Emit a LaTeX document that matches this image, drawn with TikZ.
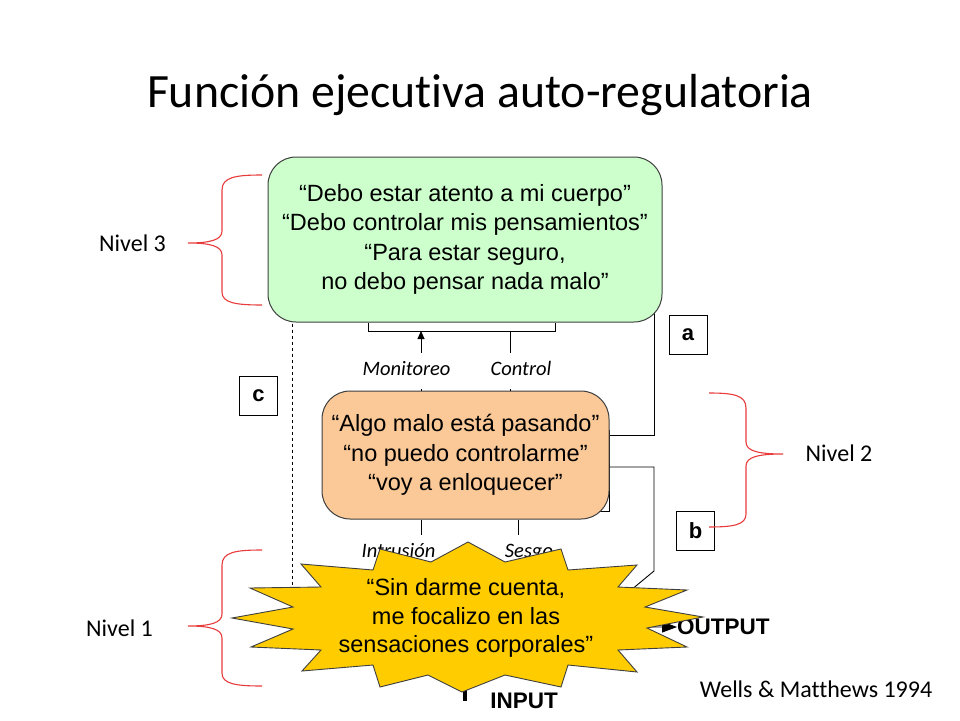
\documentclass[tikz,border=0pt]{standalone}
\usepackage{fontspec}
\setmainfont{Liberation Sans}
\newfontfamily\calibri[Ligatures=NoCommon]{Carlito}
\usetikzlibrary{arrows.meta}
\pgfdeclarelayer{bg}
\pgfdeclarelayer{back}
\pgfsetlayers{bg,back,main}
\definecolor{greenfill}{HTML}{CCFFCC}
\definecolor{orangefill}{HTML}{FBC997}
\definecolor{starfill}{HTML}{FFCC00}
\definecolor{bracered}{HTML}{E83C3C}
\definecolor{boxline}{HTML}{3F3F3F}
\begin{document}
\begin{tikzpicture}[x=1pt,y=-1pt,
  quote/.style={font=\fontsize{23.5}{29.5}\selectfont, align=center, inner sep=0pt},
  roundbox/.style={draw=boxline, line width=1pt, rounded corners=28pt, inner sep=0pt},
  flowlabel/.style={font=\calibri\itshape\fontsize{20.5}{22}\selectfont, minimum height=36pt, inner sep=0pt, text height=14pt, text depth=4.5pt},
  letterbox/.style={draw=black, line width=0.8pt, fill=white, minimum width=38pt, minimum height=39pt, inner sep=0pt, font=\bfseries\fontsize{22}{24}\selectfont},
  nivel/.style={font=\calibri\fontsize{24}{26}\selectfont, inner sep=0pt},
  conn/.style={draw=black, line width=0.9pt},
  bracestyle/.style={draw=bracered, line width=1.1pt},
  bigword/.style={font=\bfseries\fontsize{22.5}{24}\selectfont, inner sep=0pt}
]
\useasboundingbox (0,0) rectangle (960,720);
\begin{pgfonlayer}{bg}
\fill[white] (0,0) rectangle (960,720);
\end{pgfonlayer}

% title
\node[font=\calibri\fontsize{47.8}{50}\selectfont, anchor=base, inner sep=0pt] (title) at (480,107) {Función ejecutiva auto-regulatoria};

% main boxes
\node[roundbox, fill=greenfill, minimum width=394pt, minimum height=165pt, quote] (g) at (465,239.5)
  {“Debo estar atento a mi cuerpo”\\“Debo controlar mis pensamientos”\\“Para estar seguro,\\no debo pensar nada malo”};

\coordinate (inner) at (345,430);
\coordinate (innerB) at (609,511);
\begin{pgfonlayer}{back}
\draw[conn] (inner) rectangle (innerB);
\end{pgfonlayer}
\node[roundbox, fill=orangefill, minimum width=287pt, minimum height=128pt, quote] (o) at (465.5,455)
  {“Algo malo está pasando”\\“no puedo controlarme”\\“voy a enloquecer”};

% bracket below green box
\coordinate (brL) at (368,331);
\coordinate (brR) at (555,331);
\draw[conn] (brL |- g.south) -- (brL) -- (brR) -- (brR |- g.south);

% labels between levels
\node[flowlabel] (mon) at (406.5,371) {Monitoreo};
\node[flowlabel] (ctl) at (521,371) {Control};
\node[flowlabel] (intr) at (398.5,553) {Intrusión};
\node[flowlabel] (ses) at (529,553) {Sesgo};

\coordinate (monX) at (421,331);
\coordinate (ctlX) at (510,331);
\coordinate (intrX) at (421,519);
\coordinate (sesX) at (518,519);
\draw[conn, -{Triangle[length=8pt,width=7pt]}] (mon.north -| monX) -- (monX);
\draw[conn] (o.north -| monX) -- (mon.south -| monX);
\draw[conn] (ctl.north -| ctlX) -- (ctlX);
\draw[conn] (o.north -| ctlX) -- (ctl.south -| ctlX);
\draw[conn] (o.south -| intrX) -- (intr.north -| intrX);
\draw[conn] (o.south -| sesX) -- (ses.north -| sesX);

% output / input labels
\node[bigword, anchor=west] (out) at (677,627) {OUTPUT};
\node[bigword] (in) at (524,701) {INPUT};
\coordinate (inBot) at (465,701);

% connectors behind
\coordinate (dashX) at (292,600);
\coordinate (aCorner) at (654,435);
\coordinate (bCorner) at (654,467);
\coordinate (bBend) at (654,571);
\coordinate (bHid) at (625,595);
\begin{pgfonlayer}{back}
\draw[conn, line width=0.8pt, dash pattern=on 3.5pt off 2.5pt] (dashX |- g.center) -- (dashX);
\draw[conn] (o.east |- aCorner) -- (aCorner) -- (aCorner |- g.center);
\end{pgfonlayer}
\draw[conn, -{Triangle[length=15pt,width=11pt]}] (o.east |- bCorner) -- (bCorner) -- (bBend) -- (bHid) -- (bHid |- out.west) -- (out.west);

% star
\draw[draw=boxline, line width=0.9pt, fill=starfill]
 (468,542) -- (505,562) -- (561,549) -- (568,570) -- (637,565) -- (618,587) -- (687,590) -- (645,607)
 -- (703,617) -- (647,628) -- (687,647) -- (618,650) -- (637,672) -- (568,665) -- (561,687) -- (505,675)
 -- (462,692) -- (428,675) -- (380,687) -- (373,665) -- (302,671) -- (321,650) -- (251,647) -- (293,629)
 -- (232,618) -- (293,607) -- (250,588) -- (321,587) -- (301,564) -- (373,570) -- (380,549) -- (431,562) -- cycle;
\node[quote, font=\fontsize{23.5}{28.5}\selectfont] (s) at (466,618) {“Sin darme cuenta,\\me focalizo en las\\sensaciones corporales”};
\begin{pgfonlayer}{back}
\draw[line width=4pt] (inBot) -- (inBot |- s.center);
\end{pgfonlayer}

% letter boxes
\node[letterbox] (a) at (688,334.5) {a};
\node[letterbox] (b) at (695.5,530.5) {b};
\node[letterbox] (c) at (258.5,395.5) {c};

% braces
\draw[bracestyle] (262,175) .. controls (236,175) and (222,177) .. (222,190) -- (222,231)
  .. controls (222,240) and (210,243) .. (188,243) .. controls (210,243) and (222,246) .. (222,255)
  -- (222,292) .. controls (222,303) and (236,305) .. (262,305);
\draw[bracestyle] (262,550) .. controls (236,550) and (222,552) .. (222,565) -- (222,614)
  .. controls (222,623) and (210,626) .. (188,626) .. controls (210,626) and (222,629) .. (222,638)
  -- (222,673) .. controls (222,684) and (236,686) .. (262,686);
\draw[bracestyle] (709,393) .. controls (733,393) and (746,395) .. (746,408) -- (746,442)
  .. controls (746,451) and (758,454) .. (783,454) .. controls (758,454) and (746,457) .. (746,466)
  -- (746,514) .. controls (746,525) and (733,527) .. (709,527);

\node[nivel] (n3) at (132.5,243) {Nivel 3};
\node[nivel] (n1) at (119.5,628) {Nivel 1};
\node[nivel] (n2) at (839,453) {Nivel 2};

\node[nivel] (ref) at (816,689) {Wells \& Matthews 1994};
\end{tikzpicture}
\end{document}
